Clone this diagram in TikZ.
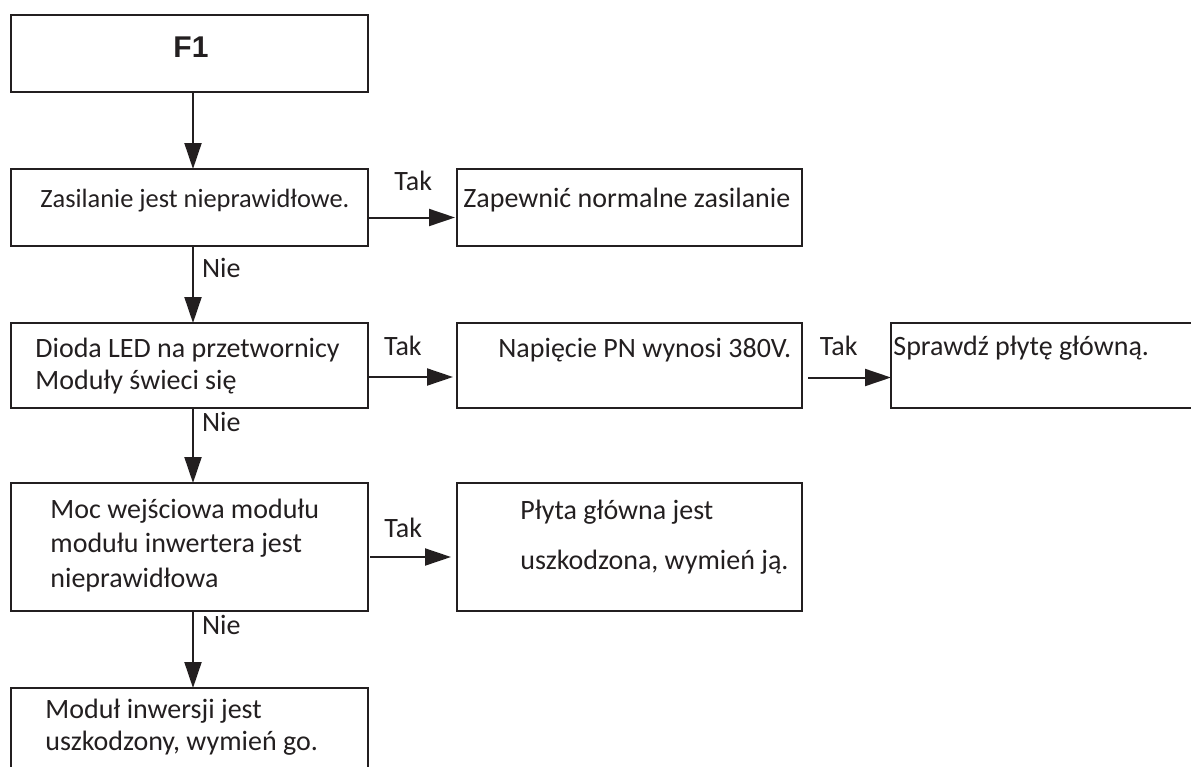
\documentclass[tikz,border=0pt]{standalone}
\usepackage{fontspec}
\setmainfont{Carlito}
\newfontfamily\headfont{Liberation Sans}
\usetikzlibrary{arrows.meta}
\definecolor{ink}{HTML}{231F20}

\begin{document}
\begin{tikzpicture}[x=.5pt,y=-.5pt]
\tikzstyle{box}=[draw=ink,line width=1.1pt,inner sep=0,outer sep=0]
\tikzstyle{txt}=[inner sep=0,anchor=base west,align=left,text=ink,font=\fontsize{14}{16}\selectfont]
\tikzstyle{lbl}=[inner sep=0,text=ink,font=\fontsize{14}{16}\selectfont]
\tikzstyle{arr}=[draw=ink,line width=1pt,-{Triangle[length=13pt,width=8.5pt]}]

\useasboundingbox (0,0) rectangle (1191,767);
\fill[white] (0,0) rectangle (1191,767);
\clip (0,0) rectangle (1191,767);

% left column (text nodes sit on the baseline of their last line)
\node[box,minimum width=178.5pt,minimum height=38.5pt] (f1) at (189.5,53.5) {};
\node[anchor=base,inner sep=0,text=ink,font=\headfont\bfseries\fontsize{15}{18}\selectfont] (f1t) at (191,57) {F1};

\node[box,minimum width=178.5pt,minimum height=38.5pt] (zas) at (189.5,207.5) {};
\node[txt,font=\fontsize{13.2}{16}\selectfont] (zast) at (40,207) {Zasilanie jest nieprawidłowe.};

\node[box,minimum width=178.5pt,minimum height=42.5pt] (dio) at (189.5,365.5) {};
\node[txt] (diot) at (35,389) {Dioda LED na przetwornicy\\Moduły świeci się};

\node[box,minimum width=178.5pt,minimum height=64pt] (moc) at (189.5,547) {};
\node[txt,font=\fontsize{14}{17.25}\selectfont] (moct) at (50,587) {Moc wejściowa modułu\\modułu inwertera jest\\nieprawidłowa};

\node[box,minimum width=178.5pt,minimum height=51pt] (mod) at (189.5,739) {};
\node[txt] (modt) at (45,750) {Moduł inwersji jest\\uszkodzony, wymień go.};

% right side
\node[box,minimum width=172.5pt,minimum height=38.5pt] (zap) at (629.5,207.5) {};
\node[txt] (zapt) at (463,207) {Zapewnić normalne zasilanie};

\node[box,minimum width=172.5pt,minimum height=42.5pt] (nap) at (629.5,365.5) {};
\node[txt] (napt) at (498,357) {Napięcie PN wynosi 380V.};

\node[box,minimum width=169.5pt,minimum height=42.5pt] (spr) at (1060.5,365.5) {};
\node[txt] (sprt) at (893,355) {Sprawdź płytę główną.};

\node[box,minimum width=172.5pt,minimum height=64pt] (ply) at (629.5,547) {};
\node[txt,font=\fontsize{14}{25}\selectfont] (plyt) at (520,569) {Płyta główna jest\\uszkodzona, wymień ją.};

% arrows
\draw[arr] ([xshift=1.75pt]f1.south) -- ([xshift=1.75pt]zas.north);
\draw[arr] ([xshift=1.75pt]zas.south) -- ([xshift=1.75pt]dio.north)
  node[lbl,pos=.29,right=4pt] {Nie};
\draw[arr] ([xshift=1.75pt]dio.south) -- ([xshift=1.75pt]moc.north)
  node[lbl,pos=.19,right=4pt] {Nie};
\draw[arr] ([xshift=1.75pt]moc.south) -- ([xshift=1.75pt]mod.north)
  node[lbl,pos=.18,right=4pt] {Nie};

\draw[arr] ([yshift=-5pt]zas.east) -- ([xshift=-1pt,yshift=-5pt]zap.west)
  node[lbl,pos=.52,above=13pt] {Tak};
\draw[arr] ([yshift=-5.75pt]dio.east) -- ([xshift=-2pt,yshift=-5.75pt]nap.west)
  node[lbl,pos=.41,above=10pt] {Tak};
\draw[arr] ([xshift=3pt,yshift=-6pt]nap.east) -- ([yshift=-6pt]spr.west)
  node[lbl,pos=.37,above=10.5pt] {Tak};
\draw[arr] ([xshift=1pt,yshift=-5pt]moc.east) -- ([xshift=-3pt,yshift=-5pt]ply.west)
  node[lbl,pos=.41,above=9pt] {Tak};
\end{tikzpicture}
\end{document}
